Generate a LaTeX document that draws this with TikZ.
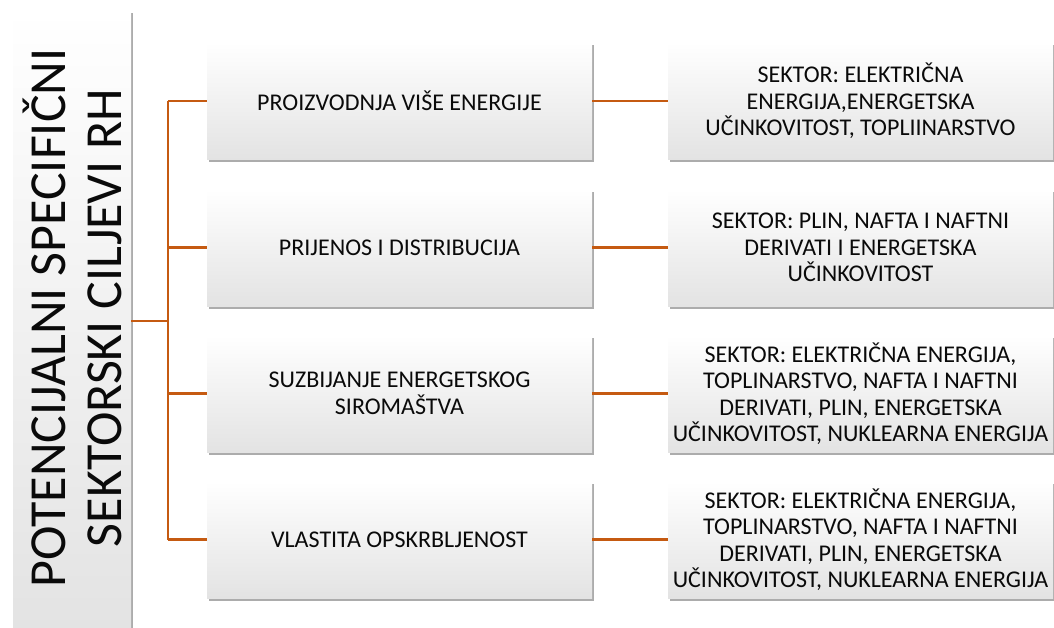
\documentclass[tikz,border=0pt]{standalone}
\usepackage{fontspec}
\setmainfont{Carlito}
\usetikzlibrary{shadows}
\definecolor{conn}{RGB}{197,90,17}
\definecolor{txt}{RGB}{10,10,10}
\begin{document}
\begin{tikzpicture}[x=1pt,y=-1pt,
  box/.style={rectangle, inner sep=0pt, minimum width=385pt, minimum height=117pt,
    top color=white, middle color=white, bottom color=black!11,
    drop shadow={shadow xshift=2pt, shadow yshift=-3pt, fill=black!65, opacity=0.5},
    align=center, text=txt, font=\fontsize{24}{26.5}\selectfont},
  lbox/.style={box, minimum width=118pt, minimum height=622pt},
  ltext/.style={rotate=90, align=center, text=txt, font=\fontsize{52}{56}\selectfont},
  link/.style={draw=conn, line width=2.5pt}]
\useasboundingbox (0,0) rectangle (1054,628);
\node[lbox] (L) at (72,321) {};
\node[ltext] (LT) at (72,318) {POTENCIJALNI SPECIFIČNI\\SEKTORSKI CILJEVI RH};
\node[box] (m1) at (399.5,101) {PROIZVODNJA VIŠE ENERGIJE};
\node[box] (m2) at (399.5,247.5) {PRIJENOS I DISTRIBUCIJA};
\node[box] (m3) at (399.5,393.5) {SUZBIJANJE ENERGETSKOG\\SIROMAŠTVA};
\node[box] (m4) at (399.5,539.5) {VLASTITA OPSKRBLJENOST};
\node[box] (r1) at (860.5,101) {SEKTOR: ELEKTRIČNA\\ENERGIJA,ENERGETSKA\\UČINKOVITOST, TOPLIINARSTVO};
\node[box] (r2) at (860.5,247.5) {SEKTOR: PLIN, NAFTA I NAFTNI\\DERIVATI I ENERGETSKA\\UČINKOVITOST};
\node[box] (r3) at (860.5,393.5) {SEKTOR: ELEKTRIČNA ENERGIJA,\\TOPLINARSTVO, NAFTA I NAFTNI\\DERIVATI, PLIN, ENERGETSKA\\UČINKOVITOST, NUKLEARNA ENERGIJA};
\node[box] (r4) at (860.5,539.5) {SEKTOR: ELEKTRIČNA ENERGIJA,\\TOPLINARSTVO, NAFTA I NAFTNI\\DERIVATI, PLIN, ENERGETSKA\\UČINKOVITOST, NUKLEARNA ENERGIJA};
\coordinate (t) at (168,321);
\draw[link] (L.east) -- (t);
\draw[link] (t |- m1.west) -- (t |- m4.west);
\foreach \i in {1,2,3,4} {
  \draw[link] (t |- m\i.west) -- (m\i.west);
  \draw[link] (m\i.east) -- (r\i.west);
}
\end{tikzpicture}
\end{document}
